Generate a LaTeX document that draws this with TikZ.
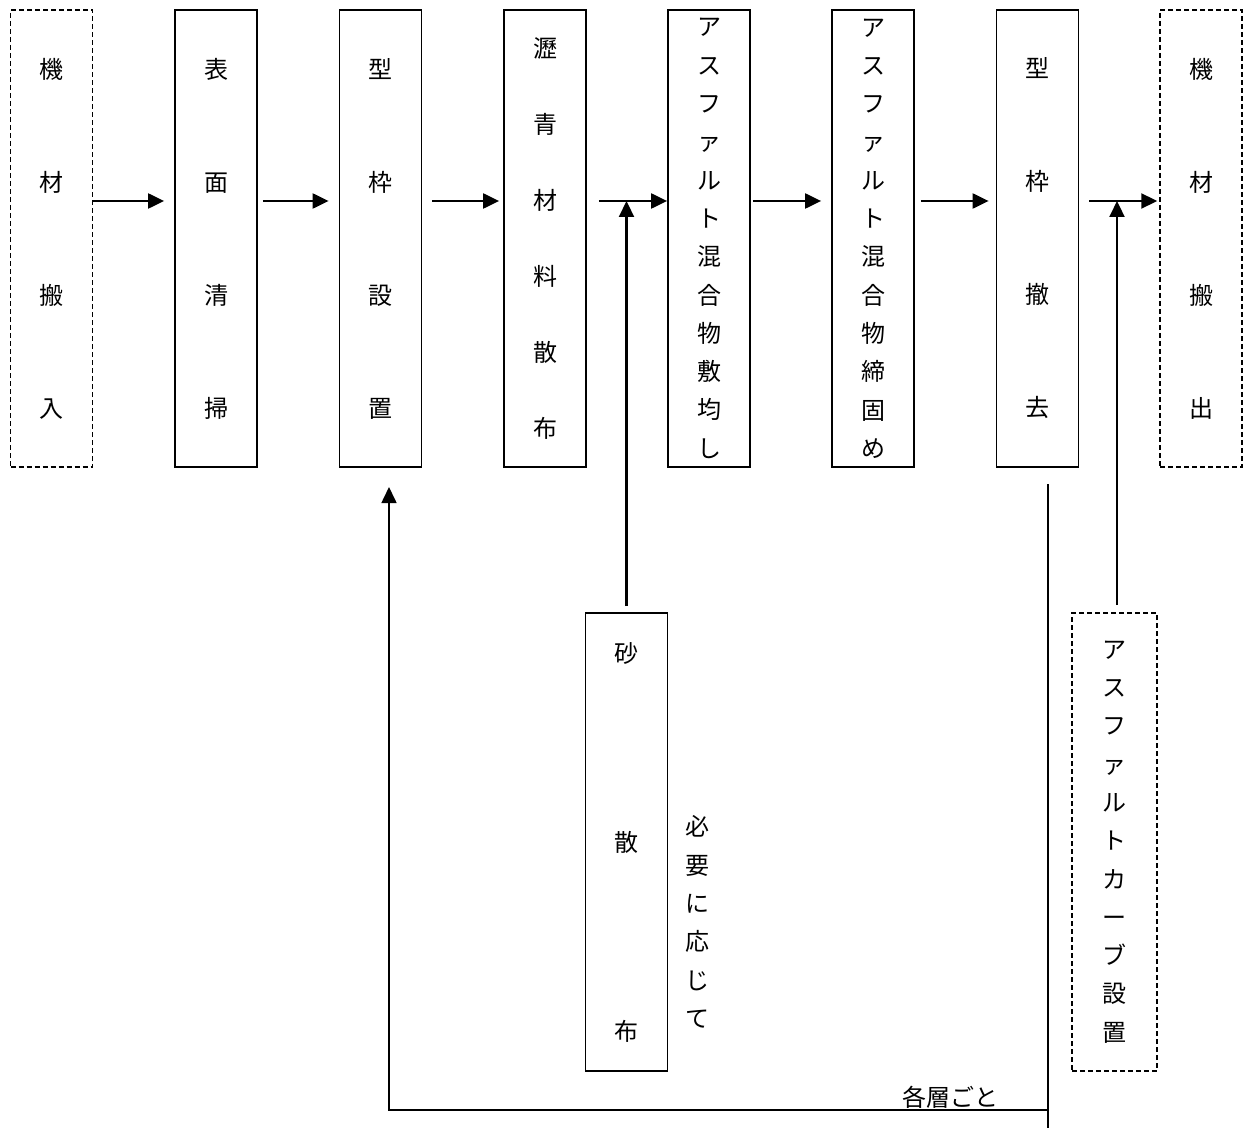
\documentclass[tikz,border=0pt]{standalone}
\usepackage{fontspec}
\usepackage{tikz}
\usetikzlibrary{positioning,arrows.meta,calc}
\newfontfamily\jp{Noto Sans CJK JP}
\tikzset{
  % --- nodes
  proc/.style  = {draw=black, line width=1.8pt, fill=white, inner sep=0pt,
                  minimum width=82pt, minimum height=457pt, align=center},
  procd/.style = {proc, line width=1.5pt, dash pattern=on 5pt off 3pt},
  wide/.style  = {font=\jp\fontsize{24pt}{113pt}\selectfont},
  mid/.style   = {font=\jp\fontsize{24pt}{76pt}\selectfont},
  tight/.style = {font=\jp\fontsize{24pt}{38.3pt}\selectfont},
  sparse/.style= {font=\jp\fontsize{24pt}{189pt}\selectfont},
  note/.style  = {inner sep=0pt, align=center},
  % --- edges
  arr/.style   = {-{Triangle[length=16pt,width=15pt]}, line width=2.2pt},
  ln/.style    = {line width=1.6pt},
}
\begin{document}
\begin{tikzpicture}[x=1pt,y=-1pt]
  \useasboundingbox (0,0) rectangle (1249,1131);

  % --- main row
  \node[procd,wide] (b1) at (51.5,238.5)  {機\\材\\搬\\入};
  \node[proc,wide]  (b2) at (216,238.5)   {表\\面\\清\\掃};
  \node[proc,wide]  (b3) at (380.5,238.5) {型\\枠\\設\\置};
  \node[proc,mid]   (b4) at (545,238.5)   {瀝\\青\\材\\料\\散\\布};
  \node[proc,tight] (b5) at (709,238.5)   {ア\\ス\\フ\\ァ\\ル\\ト\\混\\合\\物\\敷\\均\\し};
  \node[proc,tight] (b6) at (873,238.5)   {ア\\ス\\フ\\ァ\\ル\\ト\\混\\合\\物\\締\\固\\め};
  \node[proc,wide]  (b7) at (1037.5,238.5){型\\枠\\撤\\去};
  \node[procd,wide] (b8) at (1201,238.5)  {機\\材\\搬\\出};

  % --- side inputs
  \node[proc,sparse,minimum height=458pt] (sand) at (626.5,842) {砂\\散\\布};
  \node[procd,tight,minimum width=85pt,minimum height=458pt] (curb) at (1114.5,842)
    {ア\\ス\\フ\\ァ\\ル\\ト\\カ\\ー\\ブ\\設\\置};
  \node[note,tight] (need) at (697,922) {必\\要\\に\\応\\じ\\て};

  \coordinate (row) at (0,201);
  \coordinate (j1) at (sand.north |- row);
  \coordinate (j2) at (1117,201);

  % --- flow
  \draw[arr] (b1.east |- row) -- ($(b2.west |- row)+(-10,0)$);
  \draw[arr] ($(b2.east |- row)+(5,0)$) -- ($(b3.west |- row)+(-10,0)$);
  \draw[arr] ($(b3.east |- row)+(10,0)$) -- ($(b4.west |- row)+(-4,0)$);
  \draw[arr] ($(b4.east |- row)+(12,0)$) -- (b5.west |- row);
  \draw[arr] ($(b5.east |- row)+(2,0)$) -- ($(b6.west |- row)+(-10,0)$);
  \draw[arr] ($(b6.east |- row)+(6,0)$) -- ($(b7.west |- row)+(-7,0)$);
  \draw[arr] ($(b7.east |- row)+(10,0)$) -- ($(b8.west |- row)+(-2,0)$);
  \draw[arr] ([yshift=6pt]sand.north) -- (j1);
  \draw[arr] (j2 |- 0,605) -- (j2);

  % --- repeat per layer
  \coordinate (loopTop) at (1048,484);
  \coordinate (loopEnd) at (1048,1128);
  \coordinate (loopTurn) at (1048,1110);
  \draw[ln] (loopTop) -- (loopEnd);
  \draw[arr,line width=1.6pt] (loopTurn) -- (389,1110) -- (389,487);
  \node[note,font=\jp\fontsize{24pt}{28pt}\selectfont,anchor=south] (layer)
    at (950,1109) {各層ごと};
\end{tikzpicture}
\end{document}
